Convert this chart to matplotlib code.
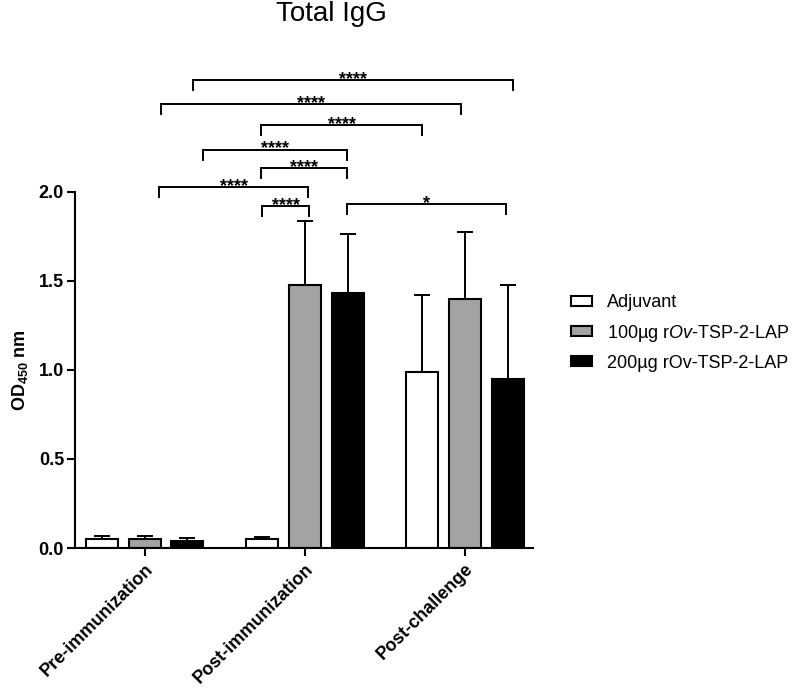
import numpy as np
import matplotlib
matplotlib.use('Agg')
import matplotlib.pyplot as plt
from matplotlib.patches import Patch

plt.rcParams['font.family'] = ['Liberation Sans', 'DejaVu Sans']
plt.rcParams['mathtext.fontset'] = 'custom'
plt.rcParams['mathtext.rm'] = 'Liberation Sans'
plt.rcParams['mathtext.bf'] = 'Liberation Sans:bold'
plt.rcParams['mathtext.it'] = 'Liberation Sans:italic'

# data
timepoints = ['Pre-immunization', 'Post-immunization', 'Post-challenge']
groups = ['Adjuvant', r'100µg r$\mathit{Ov}$-TSP-2-LAP', '200µg rOv-TSP-2-LAP']
adjuvant = [0.05, 0.05, 0.99]
adjuvant_err = [0.015, 0.013, 0.43]
dose100 = [0.05, 1.476, 1.397]
dose100_err = [0.015, 0.36, 0.378]
dose200 = [0.041, 1.433, 0.947]
dose200_err = [0.013, 0.33, 0.53]

# significance brackets: x start, x end (in group units), height, label
brk_x0 = [0.303, 0.103, 0.727, 0.367, 0.727, 0.090, 0.733, 1.265]
brk_x1 = [2.299, 1.975, 1.733, 1.265, 1.265, 1.020, 1.026, 2.257]
brk_y = [2.626, 2.490, 2.374, 2.235, 2.131, 2.024, 1.919, 1.929]
brk_lab = ['****', '****', '****', '****', '****', '****', '****', '*']

colors = ['white', '#a3a3a6', 'black']
values = [adjuvant, dose100, dose200]
errors = [adjuvant_err, dose100_err, dose200_err]

fig = plt.figure(figsize=(8, 6.93), dpi=100)
ax = fig.add_axes([0.094, 0.2092, 0.572, 0.5142])

x = np.arange(len(timepoints))
width = 0.2
offset = 0.267
for i in range(3):
    pos = x + (i - 1) * offset
    ax.bar(pos, values[i], width, color=colors[i], edgecolor='black',
           linewidth=1.5, zorder=2)
    ax.errorbar(pos, values[i], yerr=[np.zeros(3), errors[i]], fmt='none',
                ecolor='black', elinewidth=1.4, capsize=5.8, capthick=1.4,
                zorder=1)

for x0, x1, y, lab in zip(brk_x0, brk_x1, brk_y, brk_lab):
    leg = 0.055
    ax.plot([x0, x0, x1, x1], [y - leg, y, y, y - leg], color='black',
            lw=1.4, clip_on=False, solid_joinstyle='miter')
    ax.annotate(lab, ((x0 + x1) / 2, y), xytext=(0, -2.6),
                textcoords='offset points', ha='center', va='baseline',
                fontsize=13, fontweight='bold', annotation_clip=False)

ax.set_xlim(-0.434, 2.424)
ax.set_ylim(0, 2.0)
ax.set_yticks([0, 0.5, 1.0, 1.5, 2.0])
ax.set_yticklabels(['0.0', '0.5', '1.0', '1.5', '2.0'], fontweight='bold', fontsize=13)
ax.set_xticks(x)
ax.set_xticklabels(timepoints, rotation=45, ha='right', va='top',
                   rotation_mode='anchor', fontweight='bold', fontsize=13)
ax.tick_params(axis='both', width=1.5, length=6, direction='out')
ax.tick_params(axis='y', pad=2)
ax.tick_params(axis='x', pad=3)
for s in ['top', 'right']:
    ax.spines[s].set_visible(False)
for s in ['left', 'bottom']:
    ax.spines[s].set_linewidth(1.5)

ax.set_ylabel(r'OD$_{\mathbf{450}}$ nm', fontweight='bold', fontsize=13, labelpad=6)

fig.text(331 / 800, 1 - 14 / 693, 'Total IgG', ha='center', va='center', fontsize=20)

handles = [Patch(facecolor=c, edgecolor='black', linewidth=1.5) for c in colors]
fig.legend(handles, groups, loc='center left', bbox_to_anchor=(571 / 800, 1 - 333 / 693),
           frameon=False, fontsize=13, handlelength=1.17, handleheight=0.45,
           handletextpad=0.8, labelspacing=0.62, borderpad=0, borderaxespad=0)

fig.savefig('out.png', dpi=100)
